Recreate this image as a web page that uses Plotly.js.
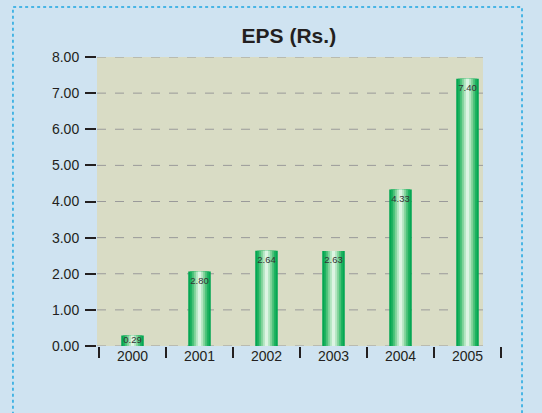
<!DOCTYPE html>
<html><head><meta charset="utf-8">
<script src="https://cdn.plot.ly/plotly-3.0.1.min.js"></script>
<style>html,body{margin:0;padding:0;background:#cfe3f1;}#chart{width:542px;height:413px;}</style>
</head><body><div id="chart"></div>
<script>
const years = ["2000","2001","2002","2003","2004","2005"];
const eps = [0.29, 2.06, 2.64, 2.63, 4.33, 7.40];
const epsLabels = ["0.29","2.80","2.64","2.63","4.33","7.40"];
const yTicks = [0,1,2,3,4,5,6,7,8];

const layers = [
  {w:0.336, c:"#00a651"},
  {w:0.29, c:"#17af5c"},
  {w:0.23, c:"#45c076"},
  {w:0.17, c:"#7dd298"},
  {w:0.11, c:"#b2e5c0"},
  {w:0.05, c:"#ddf4e3"}
];
const traces = layers.map(l => ({
  type:"bar", x:years, y:eps, width:l.w,
  marker:{color:l.c, line:{width:0}}, hoverinfo:"skip", showlegend:false
}));
traces.push({
  type:"scatter", mode:"text", x:years, y:eps, yaxis:"y2",
  text:epsLabels,
  textposition:["middle center","bottom center","bottom center","bottom center","bottom center","bottom center"],
  textfont:{family:"Liberation Sans, Arial, sans-serif", size:9.5, color:"#333"},
  cliponaxis:false, hoverinfo:"skip", showlegend:false
});

const bgRight = 0.9554; // plot background panel ends before the axis end
const gridShapes = yTicks.map(v => ({
  type:"line", xref:"paper", yref:"y", x0:0, x1:bgRight, y0:v, y1:v,
  line:{color:"#9a9a9a", width:1, dash:"dash"}, layer:"below"
}));

const layout = {
  width:542, height:413,
  margin:{l:97, r:41, t:57, b:67},
  paper_bgcolor:"#cfe3f1", plot_bgcolor:"rgba(0,0,0,0)",
  barmode:"overlay",
  title:{text:"<b>EPS (Rs.)</b>", x:0.533, xanchor:"center", y:0.913, yanchor:"middle",
         font:{family:"Liberation Sans, Arial, sans-serif", size:21, color:"#231f20"}},
  xaxis:{type:"category", range:[-0.53,5.5], tickson:"boundaries", ticks:"outside",
         ticklen:11, tickwidth:1.2, tickcolor:"#231f20", showgrid:false, zeroline:false,
         showline:false, tickfont:{family:"Liberation Sans, Arial, sans-serif", size:14, color:"#231f20"}},
  yaxis2:{overlaying:"y", range:[0.14,8.14], visible:false},
  yaxis:{range:[0,8], tickvals:yTicks, tickformat:".2f", ticks:"outside", ticklen:11,
         tickwidth:2, tickcolor:"#231f20", showgrid:false, zeroline:false, showline:false,
         ticklabelstandoff:3,
         tickfont:{family:"Liberation Sans, Arial, sans-serif", size:14, color:"#231f20"}},
  shapes:[
    {type:"rect", xref:"paper", yref:"paper", x0:-0.208, x1:1.052, y0:-0.90, y1:1.173,
     line:{color:"#1ea7e1", width:1.5, dash:"dot"}, fillcolor:"rgba(0,0,0,0)", layer:"below"},
    {type:"rect", xref:"paper", yref:"paper", x0:0, x1:bgRight, y0:0, y1:1,
     line:{width:0}, fillcolor:"#d9dcc5", layer:"below"}
  ].concat(gridShapes)
};
Plotly.newPlot("chart", traces, layout, {displayModeBar:false, staticPlot:true});
</script></body></html>
